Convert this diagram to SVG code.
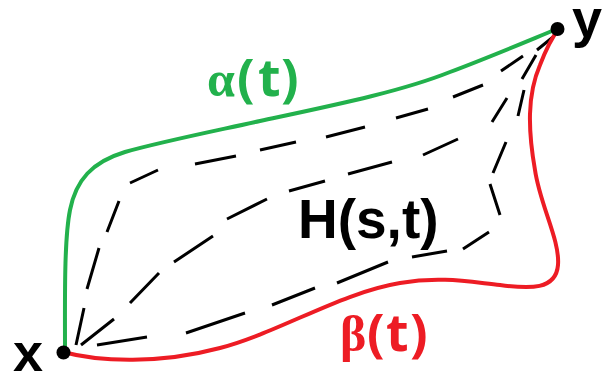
<svg xmlns="http://www.w3.org/2000/svg" width="603" height="376" viewBox="0 0 603 376">
  <style>
    .bg { fill: #ffffff; }
    .dash { fill: none; stroke: #000000; stroke-width: 3; stroke-linecap: butt; }
    .alpha { fill: none; stroke: #22b14c; stroke-width: 4; stroke-linecap: round; }
    .beta { fill: none; stroke: #ed1c24; stroke-width: 4; stroke-linecap: round; }
    .pt { fill: #000000; }
    .lbl { font-family: "Liberation Sans", Arial, sans-serif; font-weight: bold; fill: #000000; }
    .glbl { font-family: "Open Sans", "Liberation Sans", sans-serif; font-weight: bold; font-size: 52px; }
    .greek { font-family: "Liberation Serif", "Times New Roman", serif; font-weight: bold; font-size: 50px; }
  </style>
  <rect class="bg" x="0" y="0" width="603" height="376"/>

  <g id="homotopy">
    <path id="h1" class="dash" d="M76,345 L84,308 M87,289 L99,248 M107,232 L119,201 M130,183 L158,170 M195,164 L236,156 M260,150 L296,142 M326,137 L365,127 M396,118 L428,109 M453,97 L483,85 M501,71 L523,56 M537,50 L553,37"/>
    <path id="h2" class="dash" d="M81,345 L114,319 M130,303 L159,273 M174,262 L213,236 M227,219 L267,199 M289,191 L325,181 M348,174 L392,162 M423,155 L458,139 M492,122 L507,98 M522,79 L536,55"/>
    <path id="h3" class="dash" d="M97,345 L147,337 M186,333 L245,313 M272,305 L315,288 M337,283 L388,262 M412,257 L447,251 M463,249 L489,232 M500,215 L490,184 M493,173 L506,142 M518,116 L524,90"/>
  </g>

  <g id="connectors">
    <path id="alpha-path" class="alpha" d="M65,351 C65,300 64,240 70,210 C76,180 92,162 125,152 C160,142 210,132 260,121 C330,106 400,92 450,72 C490,57 530,40 557,29"/>
    <path id="beta-path" class="beta" d="M63,352 C100,362 160,364 220,348 C280,332 340,293 400,283 C440,276 470,282 500,285 C530,289 556,290 558,265 C560,240 540,205 535,170 C528,130 527,95 540,65 C545,52 550,40 558,30"/>
  </g>

  <g id="node-x">
    <circle class="pt" cx="63.5" cy="352.5" r="7"/>
    <text class="lbl" x="13" y="371" font-size="54">x</text>
  </g>
  <g id="node-y">
    <circle class="pt" cx="557.5" cy="29" r="7"/>
    <text class="lbl" x="572" y="37" font-size="54">y</text>
  </g>

  <g id="label-alpha" fill="#22b14c">
    <text y="96"><tspan class="greek" x="207">α</tspan><tspan class="glbl" x="237">(</tspan><tspan class="glbl" x="258">t</tspan><tspan class="glbl" x="281">)</tspan></text>
  </g>
  <g id="label-beta" fill="#ed1c24">
    <text y="351"><tspan class="greek" x="340" font-size="47">β</tspan><tspan class="glbl" x="367">(</tspan><tspan class="glbl" x="386">t</tspan><tspan class="glbl" x="410">)</tspan></text>
  </g>
  <g id="label-H">
    <text class="lbl" x="298" y="238" font-size="55">H(s,t)</text>
  </g>
</svg>
